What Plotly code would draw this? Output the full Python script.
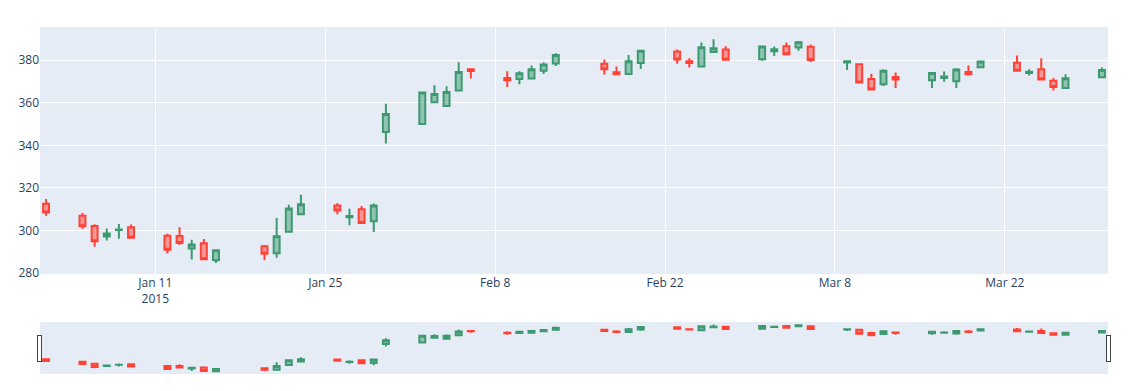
import plotly.graph_objects as go

dates = [
    "2015-01-02", "2015-01-05", "2015-01-06", "2015-01-07", "2015-01-08", "2015-01-09",
    "2015-01-12", "2015-01-13", "2015-01-14", "2015-01-15", "2015-01-16",
    "2015-01-20", "2015-01-21", "2015-01-22", "2015-01-23",
    "2015-01-26", "2015-01-27", "2015-01-28", "2015-01-29", "2015-01-30",
    "2015-02-02", "2015-02-03", "2015-02-04", "2015-02-05", "2015-02-06",
    "2015-02-09", "2015-02-10", "2015-02-11", "2015-02-12", "2015-02-13",
    "2015-02-17", "2015-02-18", "2015-02-19", "2015-02-20",
    "2015-02-23", "2015-02-24", "2015-02-25", "2015-02-26", "2015-02-27",
    "2015-03-02", "2015-03-03", "2015-03-04", "2015-03-05", "2015-03-06",
    "2015-03-09", "2015-03-10", "2015-03-11", "2015-03-12", "2015-03-13",
    "2015-03-16", "2015-03-17", "2015-03-18", "2015-03-19", "2015-03-20",
    "2015-03-23", "2015-03-24", "2015-03-25", "2015-03-26", "2015-03-27",
    "2015-03-30",
]

open_ = [
    312.6, 307.0, 302.2, 297.2, 300.3, 301.5,
    297.6, 297.5, 291.6, 294.0, 286.0,
    292.6, 289.3, 299.5, 307.7,
    311.8, 306.2, 310.0, 304.4, 346.3,
    350.0, 360.3, 358.5, 365.8, 375.8,
    371.7, 371.2, 371.4, 375.1, 378.4,
    378.3, 374.3, 373.5, 378.7,
    384.1, 379.5, 377.0, 383.9, 385.0,
    380.5, 384.2, 386.6, 386.0, 386.3,
    378.9, 378.1, 371.2, 368.7, 372.1,
    370.6, 371.6, 370.1, 374.5, 376.7,
    378.8, 374.0, 375.8, 370.4, 366.9,
    372.0,
]

high = [
    314.8, 308.4, 303.0, 301.0, 303.1, 302.9,
    298.5, 301.5, 295.7, 296.0, 290.8,
    293.2, 305.9, 312.1, 316.8,
    312.8, 310.2, 311.5, 312.7, 359.6,
    365.0, 368.2, 367.8, 379.1, 376.2,
    374.8, 374.8, 377.5, 378.9, 383.3,
    380.3, 377.0, 382.4, 384.6,
    385.0, 380.9, 388.3, 389.9, 386.6,
    386.6, 386.5, 388.3, 389.0, 387.4,
    379.6, 378.4, 373.7, 375.8, 374.2,
    374.0, 374.7, 376.2, 377.5, 379.7,
    382.2, 375.8, 380.9, 371.7, 373.4,
    376.6,
]

low = [
    307.0, 300.9, 292.4, 295.3, 296.1, 296.5,
    289.2, 293.2, 286.4, 286.3, 284.8,
    286.1, 287.2, 299.5, 307.7,
    307.7, 302.5, 303.4, 299.3, 340.9,
    350.0, 360.3, 358.5, 365.8, 371.4,
    367.4, 368.7, 371.4, 373.5, 377.3,
    373.3, 373.4, 373.5, 375.9,
    378.3, 376.6, 377.0, 383.9, 380.1,
    379.8, 382.0, 382.8, 384.4, 379.2,
    375.4, 369.3, 366.3, 367.9, 366.9,
    366.9, 369.9, 366.9, 372.8, 376.7,
    375.1, 372.8, 370.9, 365.8, 366.9,
    372.0,
]

close = [
    308.5, 302.0, 295.0, 298.6, 300.5, 296.6,
    291.0, 294.2, 293.4, 286.5, 290.7,
    289.1, 297.3, 310.4, 312.4,
    309.4, 306.8, 303.5, 311.8, 354.7,
    364.8, 364.1, 365.1, 374.5, 374.9,
    370.6, 373.9, 375.8, 378.0, 382.5,
    375.8, 373.4, 379.5, 384.4,
    380.3, 378.7, 386.1, 385.6, 380.2,
    386.5, 385.2, 382.8, 388.4, 380.1,
    379.5, 369.5, 366.3, 375.1, 371.0,
    374.0, 372.4, 375.6, 373.4, 379.4,
    375.1, 374.6, 370.9, 367.4, 371.5,
    375.4,
]

fig = go.Figure(
    go.Candlestick(
        x=dates,
        open=open_,
        high=high,
        low=low,
        close=close,
    )
)

fig.update_layout(
    template="plotly",
    width=1125,
    height=375,
    margin=dict(l=30, r=25, t=19, b=10),
    showlegend=False,
    yaxis=dict(range=[279.6, 395.6]),
)

fig.write_html("out.html")
